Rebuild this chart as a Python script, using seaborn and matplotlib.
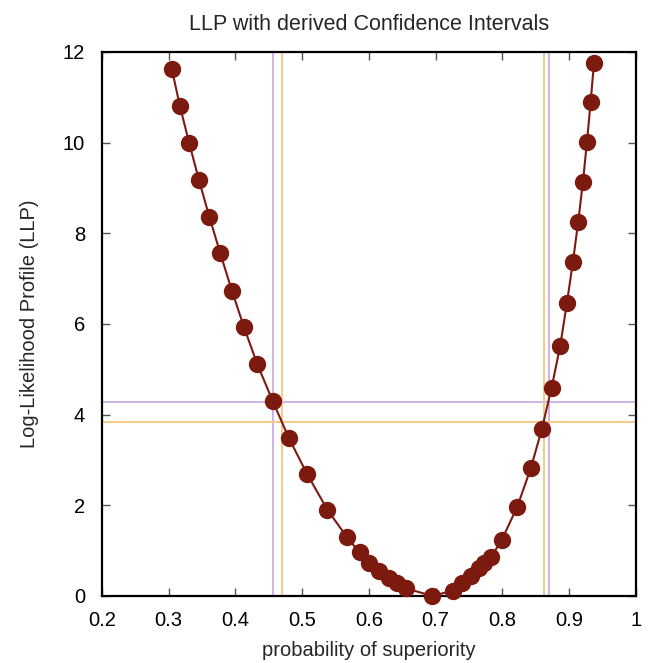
import matplotlib
matplotlib.use("Agg")
import matplotlib.pyplot as plt
import seaborn as sns
import pandas as pd

prob = [0.305, 0.317, 0.331, 0.3455, 0.361, 0.3775, 0.395, 0.413, 0.433, 0.456,
        0.480, 0.5075, 0.538, 0.567, 0.586, 0.600, 0.615, 0.630, 0.6425, 0.655,
        0.695, 0.726, 0.740, 0.7525, 0.765, 0.7725, 0.7835, 0.799, 0.822, 0.8425,
        0.859, 0.8735, 0.8865, 0.8965, 0.9055, 0.9135, 0.9205, 0.9265, 0.932, 0.937]
llp = [11.62, 10.81, 9.99, 9.18, 8.37, 7.56, 6.73, 5.93, 5.11, 4.30,
       3.49, 2.69, 1.90, 1.30, 0.96, 0.73, 0.54, 0.39, 0.28, 0.17,
       0.0, 0.12, 0.28, 0.44, 0.61, 0.72, 0.87, 1.24, 1.96, 2.82,
       3.68, 4.59, 5.52, 6.46, 7.37, 8.26, 9.13, 10.01, 10.89, 11.75]

ci_purple_x = [0.457, 0.869]
ci_purple_y = 4.28
ci_orange_x = [0.470, 0.862]
ci_orange_y = 3.845

xticks = [0.2, 0.3, 0.4, 0.5, 0.6, 0.7, 0.8, 0.9, 1.0]
xticklabels = ["0.2", "0.3", "0.4", "0.5", "0.6", "0.7", "0.8", "0.9", "1"]
yticks = [0, 2, 4, 6, 8, 10, 12]

df = pd.DataFrame({"prob": prob, "llp": llp})

sns.set_style("white")
plt.rcParams['font.family'] = ['Liberation Sans', 'DejaVu Sans']

fig = plt.figure(figsize=(6.5, 6.63), dpi=100)
ax = fig.add_axes([0.1565, 0.1011, 0.822, 0.8205])

purple = "#c9aee6"
orange = "#f7c679"
for xv in ci_purple_x:
    ax.axvline(xv, color=purple, lw=1.3, zorder=1)
ax.axhline(ci_purple_y, color=purple, lw=1.3, zorder=1)
for xv in ci_orange_x:
    ax.axvline(xv, color=orange, lw=1.3, zorder=1)
ax.axhline(ci_orange_y, color=orange, lw=1.3, zorder=1)

sns.lineplot(data=df, x="prob", y="llp", sort=False, ax=ax, color="#7d1a10",
             lw=1.5, marker="o", markersize=12.5, markeredgewidth=0,
             zorder=3, clip_on=False)

ax.set_xlim(0.2, 1.0)
ax.set_ylim(0, 12)
ax.set_xticks(xticks)
ax.set_xticklabels(xticklabels)
ax.set_yticks(yticks)
ax.tick_params(direction="in", length=6, width=1, colors="#555555",
               labelcolor="black", labelsize=14.5, top=True, right=True,
               bottom=True, left=True)
ax.tick_params(axis="x", pad=11)
ax.tick_params(axis="y", pad=12)
for s in ax.spines.values():
    s.set_color("black")
    s.set_linewidth(1.6)

ax.set_title("LLP with derived Confidence Intervals", fontsize=15.5, pad=16)
ax.set_xlabel("probability of superiority", fontsize=14.5, labelpad=8)
ax.set_ylabel("Log-Likelihood Profile (LLP)", fontsize=14.5, labelpad=17)

fig.savefig("out.png", dpi=100)
